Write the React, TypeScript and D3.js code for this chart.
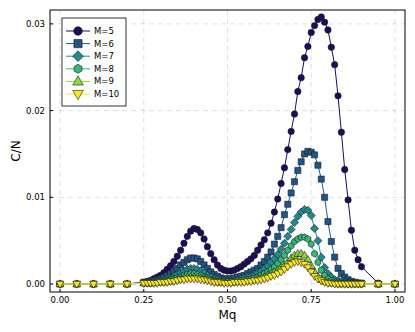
import React from "react";
import * as d3 from "d3";

const xs = [0, 0.05, 0.1, 0.15, 0.2,
  0.25, 0.26, 0.27, 0.28, 0.29, 0.3, 0.31, 0.32, 0.33, 0.34,
  0.35, 0.36, 0.37, 0.38, 0.39, 0.4, 0.41, 0.42, 0.43, 0.44,
  0.45, 0.46, 0.47, 0.48, 0.49, 0.5, 0.51, 0.52, 0.53, 0.54,
  0.55, 0.56, 0.57, 0.58, 0.59, 0.6, 0.61, 0.62, 0.63, 0.64,
  0.65, 0.66, 0.67, 0.68, 0.69, 0.7, 0.71, 0.72, 0.73, 0.74,
  0.75, 0.76, 0.77, 0.78, 0.79, 0.8, 0.81, 0.82, 0.83, 0.84,
  0.85, 0.86, 0.87, 0.88, 0.89, 0.9, 0.95, 1.0];

const m5 = [0, 0, 0, 0, 0,
  0.0002, 0.0003, 0.0004, 0.0006, 0.0008, 0.0010, 0.0013, 0.0017, 0.0021, 0.0026,
  0.0032, 0.0039, 0.0047, 0.0055, 0.0061, 0.0064, 0.0063, 0.0059, 0.0052, 0.0043,
  0.0035, 0.0028, 0.0022, 0.0018, 0.0016, 0.0015, 0.0015, 0.0016, 0.0018, 0.0020,
  0.0023, 0.0026, 0.0029, 0.0033, 0.0039, 0.0045, 0.0051, 0.0059, 0.0070, 0.0083,
  0.0098, 0.0116, 0.0134, 0.0155, 0.0176, 0.0196, 0.0222, 0.0238, 0.0261, 0.0274,
  0.0290, 0.0298, 0.0305, 0.0308, 0.0302, 0.0293, 0.0273, 0.0253, 0.0217, 0.0175,
  0.0132, 0.0097, 0.0062, 0.0039, 0.0028, 0.0020, 0.0001, 0];

const m6 = [0, 0, 0, 0, 0,
  0.0002, 0.0002, 0.0003, 0.0004, 0.0005, 0.0006, 0.0008, 0.0010, 0.0012, 0.0015,
  0.0018, 0.0022, 0.0025, 0.0028, 0.0030, 0.0030, 0.0029, 0.0026, 0.0022, 0.0018,
  0.0014, 0.0011, 0.0009, 0.0007, 0.0006, 0.0006, 0.0006, 0.0007, 0.0008, 0.0009,
  0.0010, 0.0012, 0.0014, 0.0016, 0.0018, 0.0022, 0.0026, 0.0031, 0.0037, 0.0046,
  0.0055, 0.0065, 0.0080, 0.0092, 0.0105, 0.0118, 0.0131, 0.0141, 0.0150, 0.0153,
  0.0152, 0.0149, 0.0137, 0.0121, 0.0100, 0.0072, 0.0049, 0.0031, 0.0018, 0.0012,
  0.0008, 0.0005, 0.0003, 0.0002, 0.0001, 0.0001, 0, 0];

const m7 = [0, 0, 0, 0, 0,
  0.0001, 0.0002, 0.0002, 0.0003, 0.0003, 0.0004, 0.0005, 0.0006, 0.0007, 0.0009,
  0.0011, 0.0013, 0.0015, 0.0017, 0.0018, 0.0018, 0.0017, 0.0015, 0.0013, 0.0010,
  0.0008, 0.0006, 0.0005, 0.0004, 0.0004, 0.0004, 0.0004, 0.0004, 0.0005, 0.0006,
  0.0007, 0.0008, 0.0009, 0.0011, 0.0013, 0.0015, 0.0018, 0.0021, 0.0025, 0.0029,
  0.0034, 0.0040, 0.0047, 0.0055, 0.0063, 0.0071, 0.0078, 0.0083, 0.0086, 0.0085,
  0.0079, 0.0064, 0.0050, 0.0031, 0.0019, 0.0012, 0.0008, 0.0005, 0.0004, 0.0003,
  0.0002, 0.0001, 0.0001, 0.0001, 0.0001, 0, 0, 0];

const m8 = [0, 0, 0, 0, 0,
  0.0001, 0.0001, 0.0001, 0.0002, 0.0002, 0.0003, 0.0003, 0.0004, 0.0005, 0.0006,
  0.0007, 0.0008, 0.0010, 0.0011, 0.0012, 0.0012, 0.0011, 0.0010, 0.0008, 0.0007,
  0.0005, 0.0004, 0.0003, 0.0003, 0.0003, 0.0003, 0.0003, 0.0003, 0.0004, 0.0004,
  0.0005, 0.0005, 0.0006, 0.0007, 0.0008, 0.0010, 0.0012, 0.0014, 0.0017, 0.0020,
  0.0024, 0.0028, 0.0033, 0.0039, 0.0044, 0.0049, 0.0052, 0.0054, 0.0054, 0.0052,
  0.0046, 0.0035, 0.0025, 0.0016, 0.0010, 0.0006, 0.0004, 0.0003, 0.0002, 0.0001,
  0.0001, 0.0001, 0, 0, 0, 0, 0, 0];

const m9 = [0, 0, 0, 0, 0,
  0.0001, 0.0001, 0.0001, 0.0001, 0.0002, 0.0002, 0.0002, 0.0003, 0.0003, 0.0004,
  0.0005, 0.0006, 0.0007, 0.0008, 0.0008, 0.0008, 0.0008, 0.0007, 0.0006, 0.0005,
  0.0004, 0.0003, 0.0002, 0.0002, 0.0002, 0.0002, 0.0002, 0.0002, 0.0003, 0.0003,
  0.0003, 0.0004, 0.0004, 0.0005, 0.0006, 0.0007, 0.0008, 0.0010, 0.0012, 0.0014,
  0.0016, 0.0019, 0.0022, 0.0026, 0.0030, 0.0033, 0.0035, 0.0035, 0.0033, 0.0028,
  0.0021, 0.0014, 0.0009, 0.0005, 0.0003, 0.0002, 0.0001, 0.0001, 0, 0,
  0, 0, 0, 0, 0, 0, 0, 0];

const m10 = [0, 0, 0, 0, 0,
  0.0001, 0.0001, 0.0001, 0.0001, 0.0001, 0.0002, 0.0002, 0.0002, 0.0003, 0.0003,
  0.0004, 0.0005, 0.0005, 0.0006, 0.0006, 0.0006, 0.0006, 0.0005, 0.0005, 0.0004,
  0.0003, 0.0002, 0.0002, 0.0002, 0.0001, 0.0001, 0.0001, 0.0002, 0.0002, 0.0002,
  0.0002, 0.0003, 0.0003, 0.0004, 0.0004, 0.0005, 0.0006, 0.0007, 0.0009, 0.0010,
  0.0012, 0.0014, 0.0017, 0.0020, 0.0023, 0.0025, 0.0026, 0.0025, 0.0023, 0.0019,
  0.0014, 0.0009, 0.0006, 0.0004, 0.0002, 0.0001, 0.0001, 0, 0, 0,
  0, 0, 0, 0, 0, 0, 0, 0];

const seriesNames = ["M=5", "M=6", "M=7", "M=8", "M=9", "M=10"];
const seriesValues = [m5, m6, m7, m8, m9, m10];
const seriesColors = ["#1d0d5a", "#1f5689", "#23898e", "#35b779", "#90d743", "#fde725"];
const seriesShapes = ["circle", "square", "diamond", "hexagon", "utriangle", "dtriangle"];

const xTicks = [0, 0.25, 0.5, 0.75, 1.0];
const xTickLabels = ["0.00", "0.25", "0.50", "0.75", "1.00"];
const yTicks = [0, 0.01, 0.02, 0.03];
const yTickLabels = ["0.00", "0.01", "0.02", "0.03"];

const W = 415, H = 332;
const L = 50, R = 405, T = 10, B = 292;
const FONT = "DejaVu Sans, sans-serif";

function shapePath(type: string, r: number): string {
  const pts = (arr: number[][]) => "M" + arr.map(p => p[0].toFixed(2) + "," + p[1].toFixed(2)).join("L") + "Z";
  switch (type) {
    case "circle": {
      return `M${-r},0A${r},${r} 0 1,0 ${r},0A${r},${r} 0 1,0 ${-r},0Z`;
    }
    case "square": {
      const s = r * 0.95;
      return pts([[-s, -s], [s, -s], [s, s], [-s, s]]);
    }
    case "diamond": {
      const s = r * 1.25;
      return pts([[0, -s], [s, 0], [0, s], [-s, 0]]);
    }
    case "hexagon": {
      const s = r * 1.05;
      const a: number[][] = [];
      for (let i = 0; i < 6; i++) {
        const ang = Math.PI / 6 + (i * Math.PI) / 3;
        a.push([s * Math.cos(ang), s * Math.sin(ang)]);
      }
      return pts(a);
    }
    case "utriangle": {
      const s = r * 1.3;
      return pts([[0, -s], [s * 0.95, s * 0.65], [-s * 0.95, s * 0.65]]);
    }
    case "dtriangle": {
      const s = r * 1.3;
      return pts([[0, s], [s * 0.95, -s * 0.65], [-s * 0.95, -s * 0.65]]);
    }
  }
  return "";
}

export default function App() {
  const x = d3.scaleLinear().domain([-0.03, 1.03]).range([L, R]);
  const y = d3.scaleLinear().domain([-0.00092, 0.0316]).range([B, T]);
  const line = d3.line<number>().x((_, i) => x(xs[i])).y(v => y(v));

  const legX = 62, legY = 18, legW = 64, legH = 88;
  const legStep = 12.6;

  return (
    <svg width={W} height={H} style={{ position: "absolute", left: 0, top: 0, background: "#fff" }}>
      <rect x={0} y={0} width={W} height={H} fill="#fff" />
      {/* grid */}
      <g stroke="#000" strokeOpacity={0.12} strokeWidth={1} strokeDasharray="5,4">
        {xTicks.map(t => (
          <line key={"gx" + t} x1={x(t)} x2={x(t)} y1={T} y2={B} />
        ))}
        {yTicks.map(t => (
          <line key={"gy" + t} x1={L} x2={R} y1={y(t)} y2={y(t)} />
        ))}
      </g>
      {/* series */}
      {seriesValues.map((vals, si) => (
        <g key={"s" + si}>
          <path d={line(vals) || ""} fill="none" stroke={seriesColors[si]} strokeWidth={1} />
          {vals.map((v, i) => (
            <path key={i} d={shapePath(seriesShapes[si], 3.2)} transform={`translate(${x(xs[i])},${y(v)})`}
              fill={seriesColors[si]} stroke="#1a1a1a" strokeWidth={0.6} />
          ))}
        </g>
      ))}
      {/* frame */}
      <rect x={L} y={T} width={R - L} height={B - T} fill="none" stroke="#000" strokeWidth={1} />
      {/* ticks */}
      <g stroke="#000" strokeWidth={1}>
        {xTicks.map(t => (
          <line key={"tx" + t} x1={x(t)} x2={x(t)} y1={B} y2={B - 3} />
        ))}
        {yTicks.map(t => (
          <line key={"ty" + t} x1={L} x2={L + 3} y1={y(t)} y2={y(t)} />
        ))}
      </g>
      <g fontFamily={FONT} fontSize={8.5} fill="#000">
        {xTicks.map((t, i) => (
          <text key={"lx" + t} x={x(t)} y={B + 11} textAnchor="middle">{xTickLabels[i]}</text>
        ))}
        {yTicks.map((t, i) => (
          <text key={"ly" + t} x={L - 5} y={y(t) + 3} textAnchor="end">{yTickLabels[i]}</text>
        ))}
      </g>
      <text x={(L + R) / 2} y={319} textAnchor="middle" fontFamily={FONT} fontSize={12}>Mq</text>
      <text transform={`translate(20,${(T + B) / 2}) rotate(-90)`} textAnchor="middle" fontFamily={FONT} fontSize={12}>C/N</text>
      {/* legend */}
      <rect x={legX} y={legY} width={legW} height={legH} fill="#fff" stroke="#000" strokeWidth={0.8} />
      {seriesNames.map((name, i) => {
        const cy = legY + 13 + i * legStep;
        return (
          <g key={"leg" + i}>
            <line x1={legX + 4} x2={legX + 28} y1={cy} y2={cy} stroke={seriesColors[i]} strokeWidth={1} />
            <path d={shapePath(seriesShapes[i], 4.3)} transform={`translate(${legX + 16},${cy})`}
              fill={seriesColors[i]} stroke="#1a1a1a" strokeWidth={0.6} />
            <text x={legX + 32} y={cy + 3} fontFamily={FONT} fontSize={8.5}>{name}</text>
          </g>
        );
      })}
    </svg>
  );
}
